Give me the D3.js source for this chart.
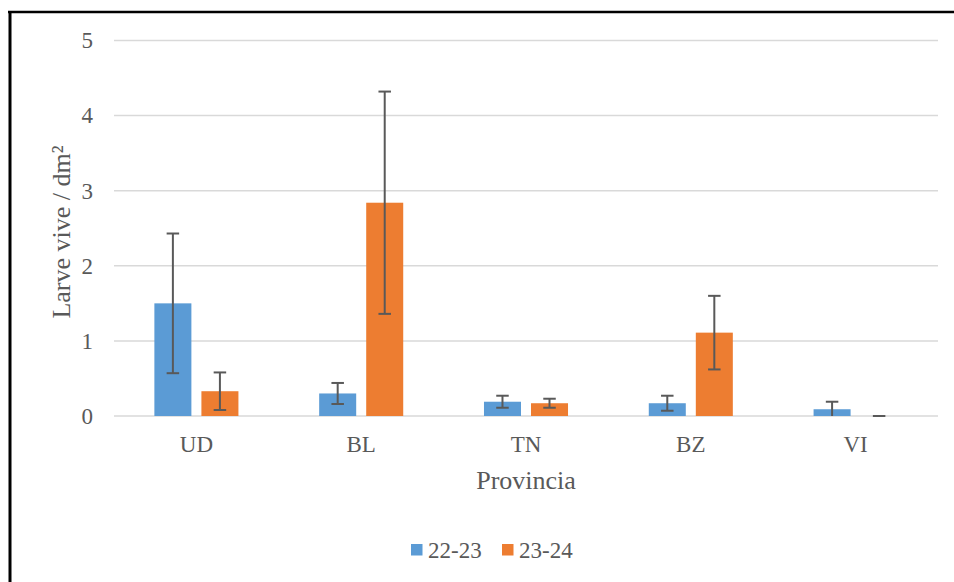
<!DOCTYPE html>
<html>
<head>
<meta charset="utf-8">
<script src="https://cdn.jsdelivr.net/npm/d3@7"></script>
<style>
  html, body { margin: 0; padding: 0; background: #fff; }
  svg { display: block; }
</style>
</head>
<body>
<svg id="chart" width="954" height="582"></svg>
<script>
const categories = ["UD", "BL", "TN", "BZ", "VI"];
const seriesNames = ["22-23", "23-24"];
const values2223 = [1.50, 0.30, 0.19, 0.17, 0.09];
const values2324 = [0.33, 2.84, 0.17, 1.11, 0.00];
const errors2223 = [0.93, 0.14, 0.08, 0.10, 0.10];
const errors2324 = [0.25, 1.48, 0.06, 0.49, 0.00];
const yTicks = [0, 1, 2, 3, 4, 5];
const colors = ["#5B9BD5", "#ED7D31"];

const FONT = "'Liberation Serif', 'Times New Roman', Times, serif";
const svg = d3.select("#chart");

// frame
svg.append("line").attr("x1", 8).attr("x2", 954).attr("y1", 12).attr("y2", 12)
  .attr("stroke", "#000").attr("stroke-width", 2.5);
svg.append("line").attr("x1", 10).attr("x2", 10).attr("y1", 11).attr("y2", 582)
  .attr("stroke", "#000").attr("stroke-width", 3);

const x0 = d3.scaleBand().domain(categories).range([114, 938])
  .paddingInner(0.49).paddingOuter(0.245);
const x1 = d3.scaleBand().domain(seriesNames).range([0, x0.bandwidth()])
  .paddingInner(0.213).paddingOuter(0);
const y = d3.scaleLinear().domain([0, 5]).range([416, 40.5]);

function txt(sel) {
  return sel.style("font-family", FONT).attr("fill", "#595959");
}

// gridlines
svg.append("g").selectAll("line").data(yTicks).join("line")
  .attr("x1", 114).attr("x2", 938)
  .attr("y1", d => y(d)).attr("y2", d => y(d))
  .attr("stroke", "#d9d9d9").attr("stroke-width", 1.5);

// y tick labels
txt(svg.append("g").selectAll("text").data(yTicks).join("text")
  .attr("x", 93).attr("y", d => y(d)).attr("dy", "0.34em")
  .attr("text-anchor", "end").attr("font-size", 23)
  .text(d => d));

const data = categories.map((c, i) => ({
  cat: c,
  items: [
    { s: seriesNames[0], v: values2223[i], e: errors2223[i], color: colors[0] },
    { s: seriesNames[1], v: values2324[i], e: errors2324[i], color: colors[1] }
  ]
}));

const groups = svg.append("g").selectAll("g").data(data).join("g")
  .attr("transform", d => `translate(${x0(d.cat)},0)`);

groups.selectAll("rect").data(d => d.items).join("rect")
  .attr("x", d => x1(d.s)).attr("width", x1.bandwidth())
  .attr("y", d => y(d.v)).attr("height", d => y(0) - y(d.v))
  .attr("fill", d => d.color);

// error bars
const capW = 12.5;
const eb = groups.selectAll("g.err").data(d => d.items).join("g").attr("class", "err")
  .attr("transform", d => `translate(${x1(d.s) + x1.bandwidth() / 2},0)`);
eb.append("line")
  .attr("y1", d => y(d.v + d.e)).attr("y2", d => y(Math.max(0, d.v - d.e)))
  .attr("stroke", "#595959").attr("stroke-width", 2);
eb.append("line")
  .attr("x1", -capW / 2).attr("x2", capW / 2)
  .attr("y1", d => y(d.v + d.e)).attr("y2", d => y(d.v + d.e))
  .attr("stroke", "#595959").attr("stroke-width", 2);
eb.filter(d => d.v - d.e >= 0 && d.e > 0).append("line")
  .attr("x1", -capW / 2).attr("x2", capW / 2)
  .attr("y1", d => y(d.v - d.e)).attr("y2", d => y(d.v - d.e))
  .attr("stroke", "#595959").attr("stroke-width", 2);

// category labels
txt(svg.append("g").selectAll("text").data(categories).join("text")
  .attr("x", d => x0(d) + x0.bandwidth() / 2).attr("y", 452)
  .attr("text-anchor", "middle").attr("font-size", 23)
  .text(d => d));

// axis titles
txt(svg.append("text").attr("x", 526).attr("y", 489)
  .attr("text-anchor", "middle").attr("font-size", 26).text("Provincia"));
txt(svg.append("text")
  .attr("transform", "translate(70,232) rotate(-90)")
  .attr("text-anchor", "middle").attr("font-size", 26).text("Larve vive / dm²"));

// legend
const legendItems = [
  { name: seriesNames[0], color: colors[0], x: 411 },
  { name: seriesNames[1], color: colors[1], x: 502 }
];
const lg = svg.append("g").selectAll("g").data(legendItems).join("g")
  .attr("transform", d => `translate(${d.x},0)`);
lg.append("rect").attr("x", 0).attr("y", 544).attr("width", 11.5).attr("height", 11.5)
  .attr("fill", d => d.color);
txt(lg.append("text").attr("x", 17).attr("y", 557.5).attr("font-size", 23).text(d => d.name));
</script>
</body>
</html>
